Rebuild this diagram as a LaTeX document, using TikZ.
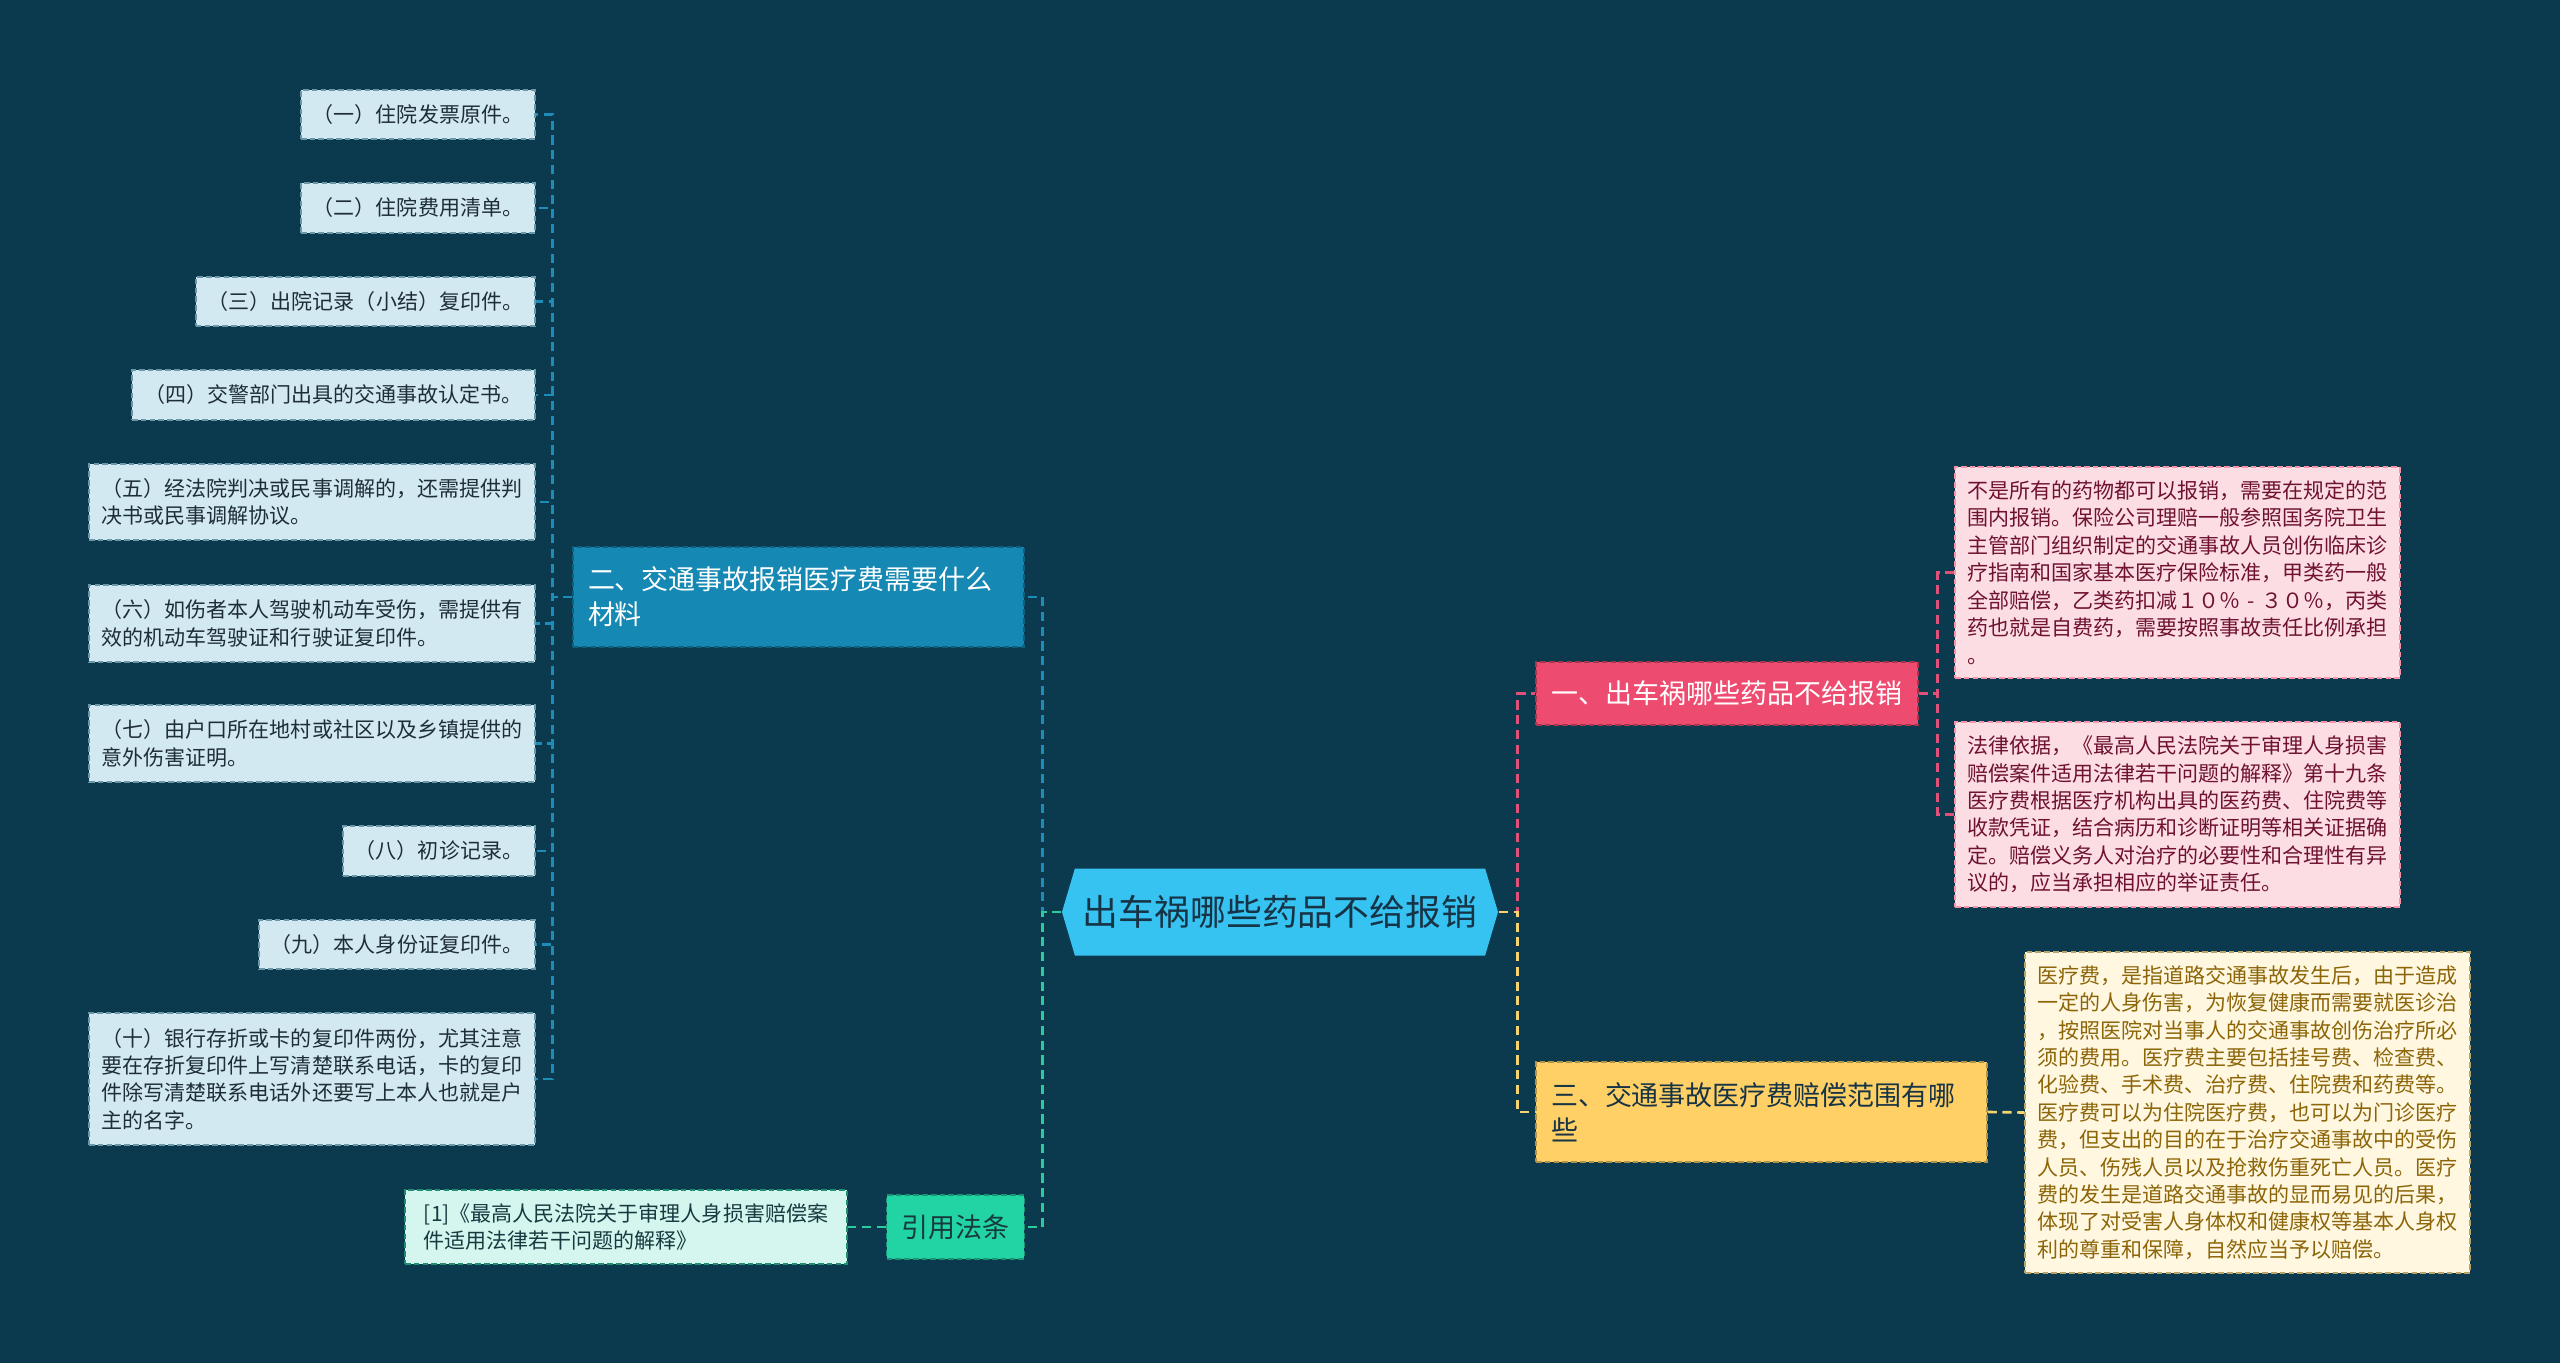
\documentclass[tikz,border=0pt]{standalone}
\usepackage{fontspec}
\setmainfont{Noto Sans CJK SC}
\usetikzlibrary{shapes.symbols}
\definecolor{bg}{HTML}{0B3A4E}
\definecolor{leaffill}{HTML}{D3E9F1}
\definecolor{leafline}{HTML}{6B97A8}
\definecolor{leafink}{HTML}{1E2E36}
\definecolor{bluefill}{HTML}{1589B3}
\definecolor{blueline}{HTML}{1C8DB9}
\definecolor{rootfill}{HTML}{36C3F2}
\definecolor{rootink}{HTML}{173446}
\definecolor{pinkfill}{HTML}{EE4B70}
\definecolor{pinkline}{HTML}{E0517A}
\definecolor{pinkleaf}{HTML}{FDDDE4}
\definecolor{pinkink}{HTML}{6E1230}
\definecolor{goldfill}{HTML}{FED065}
\definecolor{goldline}{HTML}{F5D36E}
\definecolor{goldleaf}{HTML}{FFF7E0}
\definecolor{goldink}{HTML}{8C6508}
\definecolor{mintfill}{HTML}{22D3A3}
\definecolor{mintline}{HTML}{2BCB9D}
\definecolor{mintleaf}{HTML}{D5F6EE}
\definecolor{mintink}{HTML}{173A40}
\newcommand{\six}{\fontsize{5.98}{7.8}\selectfont}
\newcommand{\eight}{\fontsize{7.68}{9.96}\selectfont}
\newcommand{\tenpt}{\fontsize{10.2}{12}\selectfont}
\tikzset{
 every node/.append style={font=\six,align=left},
 box/.style={dash pattern=on 1.6pt off .9pt,line width=.4pt,inner xsep=1.2mm,inner ysep=.5mm},
 leaf/.style={box,draw=leafline,fill=leaffill,text=leafink},
 cite/.style={box,draw=mintline!70!black,fill=mintleaf,text=mintink},
 pinknote/.style={box,draw=pinkfill!60,fill=pinkleaf,text=pinkink},
 goldnote/.style={box,draw=goldink!60,fill=goldleaf,text=goldink},
 branch/.style={box,font=\eight,inner xsep=1.5mm},
 root/.style={shape=signal,signal to=west and east,signal pointer angle=147,fill=rootfill,text=rootink,font=\tenpt,align=center,inner sep=0pt},
 link/.style={dash pattern=on 2.6pt off 1.6pt,line width=.75pt},
}

\begin{document}
\begin{tikzpicture}

\fill[bg] (0,0) rectangle (25.6,-13.63);
\useasboundingbox (0,0) rectangle (25.6,-13.63);
% root
\node[root,minimum width=4.36cm,minimum height=.87cm] (c) at (12.80,-9.12) {出车祸哪些药品不给报销};
% left side
\node[branch,draw=bluefill!70!black,fill=bluefill,text=white,text width=4.21cm,minimum width=4.51cm,minimum height=1cm] (b2) at (7.985,-5.97) {二、交通事故报销医疗费需要什么\\材料};
\node[branch,draw=mintfill!70!black,fill=mintfill,text=mintink,minimum width=1.37cm,minimum height=.64cm] (b4) at (9.555,-12.27) {引用法条};
\node[leaf,minimum width=2.34cm,minimum height=.49cm] (l1) at (4.18,-1.145) {（一）住院发票原件。};
\node[leaf,minimum width=2.34cm,minimum height=.5cm] (l2) at (4.18,-2.08) {（二）住院费用清单。};
\node[leaf,minimum width=3.39cm,minimum height=.49cm] (l3) at (3.655,-3.015) {（三）出院记录（小结）复印件。};
\node[leaf,minimum width=4.03cm,minimum height=.5cm] (l4) at (3.335,-3.95) {（四）交警部门出具的交通事故认定书。};
\node[leaf,minimum width=4.46cm,minimum height=.76cm] (l5) at (3.12,-5.02) {（五）经法院判决或民事调解的，还需提供判\\决书或民事调解协议。};
\node[leaf,minimum width=4.46cm,minimum height=.77cm] (l6) at (3.12,-6.235) {（六）如伤者本人驾驶机动车受伤，需提供有\\效的机动车驾驶证和行驶证复印件。};
\node[leaf,minimum width=4.46cm,minimum height=.77cm] (l7) at (3.12,-7.435) {（七）由户口所在地村或社区以及乡镇提供的\\意外伤害证明。};
\node[leaf,minimum width=1.92cm,minimum height=.5cm] (l8) at (4.39,-8.51) {（八）初诊记录。};
\node[leaf,minimum width=2.76cm,minimum height=.49cm] (l9) at (3.97,-9.445) {（九）本人身份证复印件。};
\node[leaf,minimum width=4.46cm,minimum height=1.32cm] (l10) at (3.12,-10.79) {（十）银行存折或卡的复印件两份，尤其注意\\要在存折复印件上写清楚联系电话，卡的复印\\件除写清楚联系电话外还要写上本人也就是户\\主的名字。};
\node[cite,minimum width=4.42cm,minimum height=.74cm] (r1) at (6.26,-12.27) {[1]《最高人民法院关于审理人身损害赔偿案\\件适用法律若干问题的解释》};
% right side
\node[branch,draw=pinkfill!70!black,fill=pinkfill,text=white,minimum width=3.82cm,minimum height=.63cm] (b1) at (17.27,-6.935) {一、出车祸哪些药品不给报销};
\node[branch,draw=goldfill!70!black,fill=goldfill,text=rootink,text width=4.21cm,minimum width=4.51cm,minimum height=1cm] (b3) at (17.615,-11.12) {三、交通事故医疗费赔偿范围有哪\\些};
\node[pinknote,minimum width=4.45cm,minimum height=2.11cm] (p1) at (21.775,-5.725) {不是所有的药物都可以报销，需要在规定的范\\围内报销。保险公司理赔一般参照国务院卫生\\主管部门组织制定的交通事故人员创伤临床诊\\疗指南和国家基本医疗保险标准，甲类药一般\\全部赔偿，乙类药扣减１０％\makebox[1em]{-}３０％，丙类\\药也就是自费药，需要按照事故责任比例承担\\。};
\node[pinknote,minimum width=4.45cm,minimum height=1.85cm] (p2) at (21.775,-8.145) {法律依据，《最高人民法院关于审理人身损害\\赔偿案件适用法律若干问题的解释》第十九条\\医疗费根据医疗机构出具的医药费、住院费等\\收款凭证，结合病历和诊断证明等相关证据确\\定。赔偿义务人对治疗的必要性和合理性有异\\议的，应当承担相应的举证责任。};
\node[goldnote,minimum width=4.45cm,minimum height=3.21cm] (y1) at (22.475,-11.125) {医疗费，是指道路交通事故发生后，由于造成\\一定的人身伤害，为恢复健康而需要就医诊治\\，按照医院对当事人的交通事故创伤治疗所必\\须的费用。医疗费主要包括挂号费、检查费、\\化验费、手术费、治疗费、住院费和药费等。\\医疗费可以为住院医疗费，也可以为门诊医疗\\费，但支出的目的在于治疗交通事故中的受伤\\人员、伤残人员以及抢救伤重死亡人员。医疗\\费的发生是道路交通事故的显而易见的后果，\\体现了对受害人身体权和健康权等基本人身权\\利的尊重和保障，自然应当予以赔偿。};
% connectors
\foreach \n in {l1,l2,l3,l4,l5,l6,l7,l8,l9,l10}
 \draw[link,blueline] (b2.west) -- ++(-.2,0) |- (\n.east);
\draw[link,blueline] (c.west) -- ++(-.19,0) |- (b2.east);
\draw[link,mintline] (c.west) -- ++(-.19,0) |- (b4.east);
\draw[link,mintline] (b4.west) -- (r1.east);
\draw[link,pinkline] (c.east) -- ++(.19,0) |- (b1.west);
\draw[link,goldline] (c.east) -- ++(.19,0) |- (b3.west);
\foreach \n in {p1,p2}
 \draw[link,pinkline] (b1.east) -- ++(.19,0) |- (\n.west);
\draw[link,goldline] (b3.east) -- (y1.west);

\end{tikzpicture}
\end{document}
